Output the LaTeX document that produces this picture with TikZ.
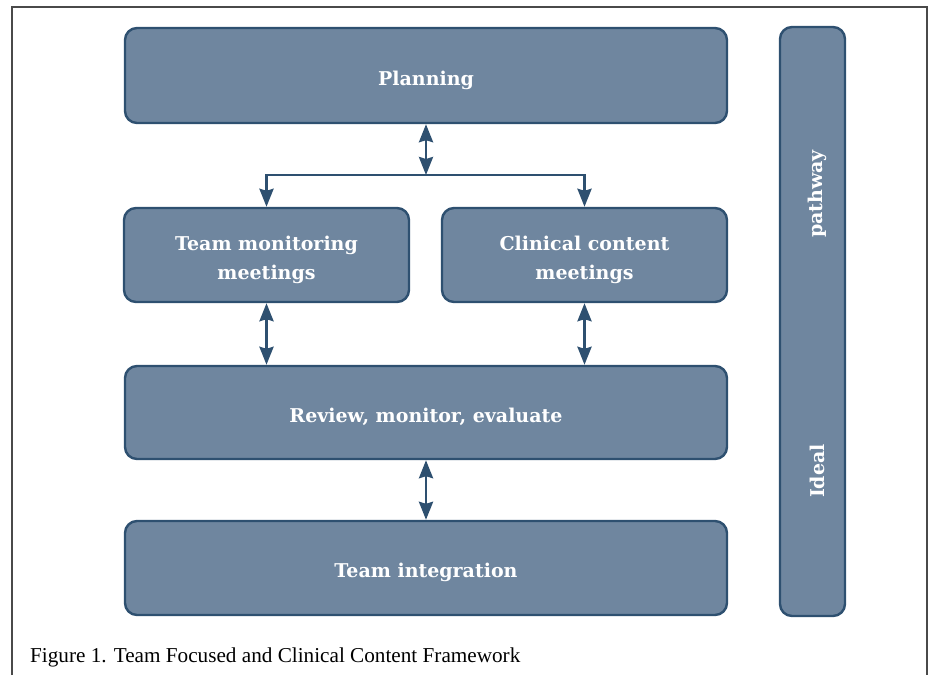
\documentclass[tikz,border=0pt]{standalone}
\usepackage{fontspec}
\setmainfont{DejaVu Serif}
\newfontfamily\capfont{Liberation Serif}
\usetikzlibrary{arrows.meta}
\definecolor{boxfill}{HTML}{6F869F}
\definecolor{boxline}{HTML}{2E5070}
\definecolor{framegray}{HTML}{4A4A4A}
\newcommand{\lowtxt}[1]{\raisebox{-4pt}[\height][\depth]{\begin{tabular}{@{}c@{}}#1\end{tabular}}}
\tikzset{
  blk/.style={draw=boxline, fill=boxfill, line width=2.4pt, rounded corners=12pt,
    inner sep=0pt, text=white,
    font=\fontsize{19}{29}\selectfont\bfseries},
  vtxt/.style={text=white, inner sep=0pt, font=\fontsize{19}{22}\selectfont\bfseries, rotate=90},
  link/.style={draw=boxline, line width=2.8pt, {Stealth[length=18pt,width=14pt,inset=2pt]}-{Stealth[length=18pt,width=14pt,inset=2pt]}},
  onelink/.style={draw=boxline, line width=2.8pt, -{Stealth[length=18pt,width=14pt,inset=2pt]}},
}
\begin{document}
\begin{tikzpicture}[x=1pt,y=-1pt]
\useasboundingbox (0,0) rectangle (932,675);
\draw[framegray, line width=1.6pt] (12,675) -- (12,7) -- (927,7) -- (927,675);
\node[blk, minimum width=602pt, minimum height=95pt] (plan) at (426,75.5) {\lowtxt{Planning}};
\node[blk, minimum width=285pt, minimum height=94pt] (tm) at (266.5,255) {\lowtxt{Team monitoring\\meetings}};
\node[blk, minimum width=285pt, minimum height=94pt] (cc) at (584.5,255) {\lowtxt{Clinical content\\meetings}};
\node[blk, minimum width=602pt, minimum height=93pt] (rev) at (426,412.5) {\lowtxt{Review, monitor, evaluate}};
\node[blk, minimum width=602pt, minimum height=94pt] (ti) at (426,568) {\lowtxt{Team integration}};
\node[blk, minimum width=65pt, minimum height=589pt] (ideal) at (812.5,321.5) {};
\node[vtxt] (pw) at (817,194) {pathway};
\node[vtxt] (id) at (817,471) {Ideal};
\coordinate (j) at (426,175);
\draw[link] (plan.south) -- (j);
\draw[onelink] (j) -| (tm.north);
\draw[onelink] (j) -| (cc.north);
\draw[link] (tm.south) -- (tm.south |- rev.north);
\draw[link] (cc.south) -- (cc.south |- rev.north);
\draw[link] (rev.south) -- (ti.north);
\node[anchor=base west, inner sep=0pt, font=\capfont\fontsize{21.2}{24}\selectfont] (cap) at (30,662) {Figure 1. Team Focused and Clinical Content Framework};
\end{tikzpicture}
\end{document}
